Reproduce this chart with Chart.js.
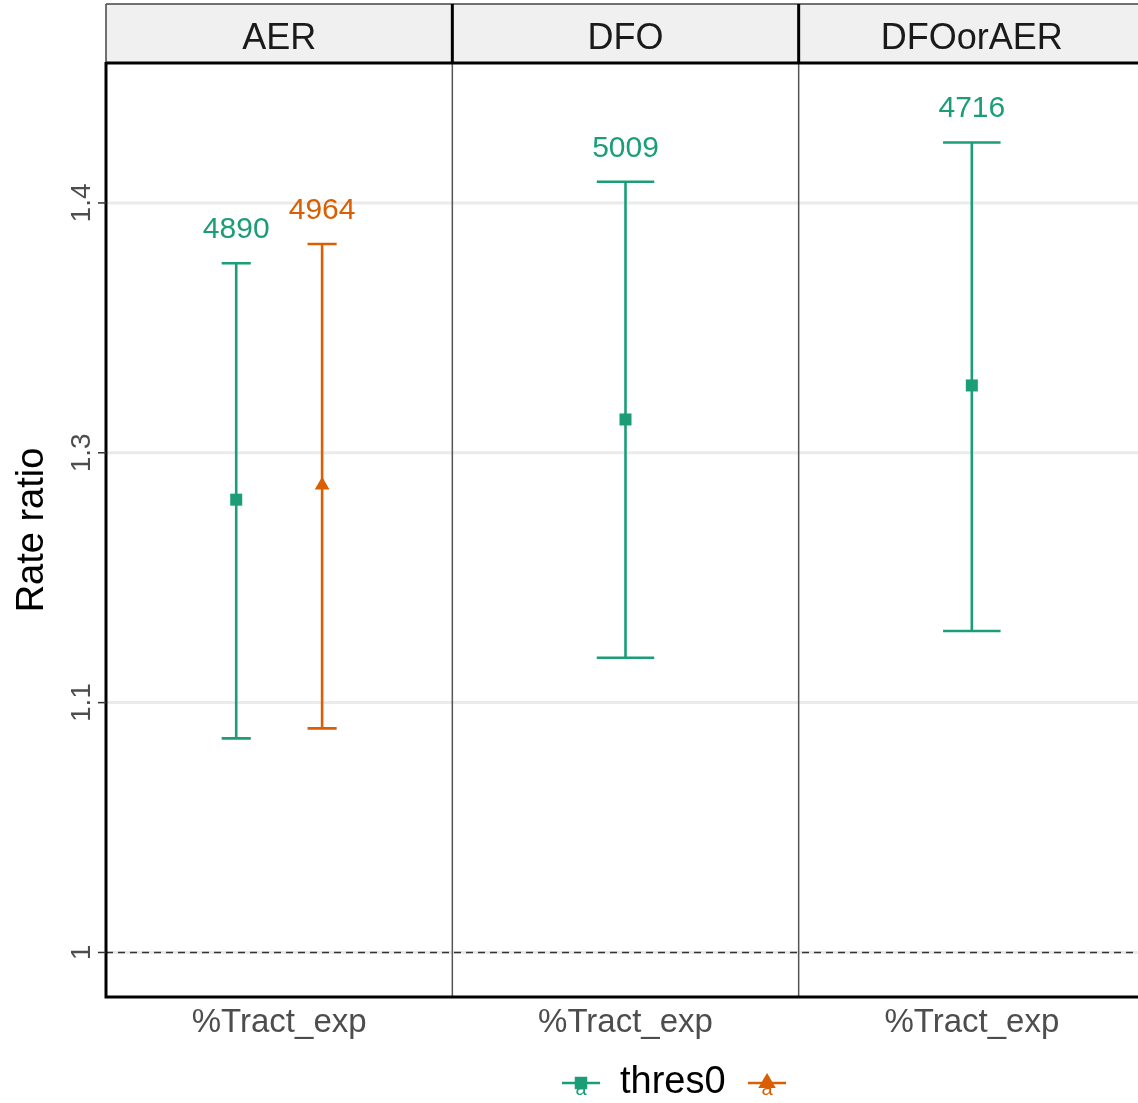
<!DOCTYPE html>
<html>
<head>
<meta charset="utf-8">
<title>Rate ratio by exposure definition</title>
<script src="https://cdn.jsdelivr.net/npm/chart.js@4.4.1/dist/chart.umd.min.js"></script>
<style>
  html, body { margin: 0; padding: 0; background: #fff; }
  /* the last facet runs a few pixels past the right edge, as in the original crop */
  #wrap { position: relative; width: 1138px; height: 1103px; overflow: hidden; }
  #rr-chart { display: block; width: 1146px; height: 1103px; }
</style>
</head>
<body>
<div id="wrap"><canvas id="rr-chart" width="1146" height="1103"></canvas></div>
<script>
// facets and axis text
const panels = ['AER', 'DFO', 'DFOorAER'];
const xLabel = '%Tract_exp';
const yTitle = 'Rate ratio';
const tickValues = [1, 1.12, 1.2544, 1.404928];
const tickLabels = ['1', '1.1', '1.3', '1.4'];

// thres0 series (green), one per panel
const greenEst = [1.228, 1.2735, 1.2933];
const greenLow = [1.102, 1.143, 1.157];
const greenHigh = [1.367, 1.4185, 1.444];
const greenN = ['4890', '5009', '4716'];

// second series (orange), only in AER
const orangePanel = [0];
const orangeEst = [1.236];
const orangeLow = [1.107];
const orangeHigh = [1.379];
const orangeN = ['4964'];

const legendLabels = ['thres0', ''];

const GREEN = '#1b9e77';
const ORANGE = '#d95f02';
const DODGE = 0.124;
const FONT = '"Liberation Sans", Arial, sans-serif';

(function() {
  'use strict';

  function greenX(i) {
    const shared = orangePanel.indexOf(i) >= 0;
    return i + 0.5 - (shared ? DODGE : 0);
  }
  function orangeX(k) {
    return orangePanel[k] + 0.5 + DODGE;
  }

  const greenPts = greenEst.map((v, i) => ({ x: greenX(i), y: v, lo: greenLow[i], hi: greenHigh[i], n: greenN[i], cap: orangePanel.indexOf(i) >= 0 ? 0.042 : 0.083 }));
  const orangePts = orangeEst.map((v, k) => ({ x: orangeX(k), y: v, lo: orangeLow[k], hi: orangeHigh[k], n: orangeN[k], cap: 0.042 }));

  // gridlines, dashed reference, error bars and count labels
  const errorBarPlugin = {
    id: 'errorBars',
    beforeDatasetsDraw(chart) {
      const { ctx, chartArea: a, scales: { x, y } } = chart;
      ctx.save();
      ctx.strokeStyle = '#ebebeb';
      ctx.lineWidth = 3;
      tickValues.forEach(v => {
        const py = y.getPixelForValue(v);
        ctx.beginPath(); ctx.moveTo(a.left, py); ctx.lineTo(a.right, py); ctx.stroke();
      });
      // reference line at 1
      const p1 = y.getPixelForValue(1);
      ctx.strokeStyle = '#333';
      ctx.lineWidth = 1.6;
      ctx.setLineDash([7, 5]);
      ctx.beginPath(); ctx.moveTo(a.left, p1); ctx.lineTo(a.right, p1); ctx.stroke();
      ctx.setLineDash([]);

      chart.data.datasets.forEach(ds => {
        ctx.strokeStyle = ds.borderColor;
        ctx.fillStyle = ds.borderColor;
        ctx.lineWidth = 2.6;
        ds.data.forEach(p => {
          const px = x.getPixelForValue(p.x);
          const pl = x.getPixelForValue(p.x - p.cap);
          const pr = x.getPixelForValue(p.x + p.cap);
          const top = y.getPixelForValue(p.hi);
          const bot = y.getPixelForValue(p.lo);
          ctx.beginPath();
          ctx.moveTo(px, top); ctx.lineTo(px, bot);
          ctx.moveTo(pl, top); ctx.lineTo(pr, top);
          ctx.moveTo(pl, bot); ctx.lineTo(pr, bot);
          ctx.stroke();
          ctx.font = '30px ' + FONT;
          ctx.textAlign = 'center';
          ctx.textBaseline = 'alphabetic';
          ctx.fillText(p.n, px, top - 25);
        });
      });
      ctx.restore();
    },
    afterDraw(chart) {
      const { ctx, chartArea: a, scales: { x, y } } = chart;
      ctx.save();
      // panel separators
      ctx.strokeStyle = '#555';
      ctx.lineWidth = 1.5;
      for (let i = 1; i < panels.length; i++) {
        const px = x.getPixelForValue(i);
        ctx.beginPath(); ctx.moveTo(px, a.top); ctx.lineTo(px, a.bottom); ctx.stroke();
      }
      // strips
      const stripTop = 4;
      panels.forEach((name, i) => {
        const l = x.getPixelForValue(i);
        const r = x.getPixelForValue(i + 1);
        ctx.fillStyle = '#f0f0f0';
        ctx.fillRect(l, stripTop, r - l, a.top - stripTop);
        ctx.fillStyle = '#1a1a1a';
        ctx.font = '36px ' + FONT;
        ctx.textAlign = 'center';
        ctx.textBaseline = 'middle';
        ctx.fillText(name, (l + r) / 2, (stripTop + a.top) / 2 + 6);
        // x axis label under each panel
        ctx.fillStyle = '#4d4d4d';
        ctx.font = '33px ' + FONT;
        ctx.fillText(xLabel, (l + r) / 2, a.bottom + 26);
      });
      ctx.strokeStyle = '#444';
      ctx.lineWidth = 1.5;
      ctx.beginPath();
      ctx.moveTo(a.left, stripTop); ctx.lineTo(a.right, stripTop);
      ctx.moveTo(a.left, stripTop); ctx.lineTo(a.left, a.top);
      ctx.stroke();
      ctx.strokeStyle = '#000';
      ctx.lineWidth = 3;
      for (let i = 1; i < panels.length; i++) {
        const px = x.getPixelForValue(i);
        ctx.beginPath(); ctx.moveTo(px, stripTop); ctx.lineTo(px, a.top); ctx.stroke();
      }
      // panel top, left axis, bottom axis
      ctx.beginPath();
      ctx.moveTo(a.left, a.top); ctx.lineTo(a.right, a.top);
      ctx.moveTo(a.left, a.top - 1); ctx.lineTo(a.left, a.bottom);
      ctx.lineTo(a.right, a.bottom);
      ctx.stroke();

      // y ticks and rotated labels
      ctx.strokeStyle = '#333';
      ctx.lineWidth = 1.5;
      ctx.fillStyle = '#4d4d4d';
      ctx.font = '28px ' + FONT;
      tickValues.forEach((v, i) => {
        const py = y.getPixelForValue(v);
        ctx.beginPath(); ctx.moveTo(a.left - 8, py); ctx.lineTo(a.left, py); ctx.stroke();
        ctx.save();
        ctx.translate(a.left - 24, py);
        ctx.rotate(-Math.PI / 2);
        ctx.textAlign = 'center';
        ctx.textBaseline = 'middle';
        ctx.fillText(tickLabels[i], 0, 0);
        ctx.restore();
      });
      // y title
      ctx.save();
      ctx.fillStyle = '#000';
      ctx.font = '38px ' + FONT;
      ctx.translate(33, (a.top + a.bottom) / 2);
      ctx.rotate(-Math.PI / 2);
      ctx.textAlign = 'center';
      ctx.textBaseline = 'middle';
      ctx.fillText(yTitle, 0, 0);
      ctx.restore();

      // legend
      const ly = 1083;
      const keys = [
        { color: GREEN, style: 'rect', x0: 562, label: legendLabels[0] },
        { color: ORANGE, style: 'triangle', x0: 748, label: legendLabels[1] }
      ];
      keys.forEach(k => {
        ctx.strokeStyle = k.color;
        ctx.fillStyle = k.color;
        ctx.lineWidth = 2.6;
        ctx.beginPath(); ctx.moveTo(k.x0, ly); ctx.lineTo(k.x0 + 38, ly); ctx.stroke();
        Chart.helpers.drawPoint(ctx, { pointStyle: k.style, radius: k.style === 'rect' ? 7 : 7.5, borderWidth: 1 }, k.x0 + 19, ly);
        ctx.font = '20px ' + FONT;
        ctx.textAlign = 'center';
        ctx.textBaseline = 'middle';
        ctx.fillText('a', k.x0 + 19, ly + 6);
        if (k.label) {
          ctx.fillStyle = '#000';
          ctx.font = '38px ' + FONT;
          ctx.textAlign = 'left';
          ctx.fillText(k.label, k.x0 + 58, ly);
        }
      });
      ctx.restore();
    }
  };

  const ctx = document.getElementById('rr-chart');
  new Chart(ctx, {
    type: 'scatter',
    data: {
      datasets: [
        {
          label: legendLabels[0],
          data: greenPts,
          borderColor: GREEN,
          backgroundColor: GREEN,
          pointStyle: 'rect',
          pointRadius: 8.5,
          pointHoverRadius: 8.5,
          borderWidth: 0
        },
        {
          label: 'second',
          data: orangePts,
          borderColor: ORANGE,
          backgroundColor: ORANGE,
          pointStyle: 'triangle',
          pointRadius: 8.5,
          pointHoverRadius: 8.5,
          borderWidth: 0
        }
      ]
    },
    options: {
      responsive: false,
      animation: false,
      events: [],
      layout: { autoPadding: false, padding: { left: 106, right: 1, top: 63, bottom: 106 } },
      plugins: { legend: { display: false }, tooltip: { enabled: false } },
      scales: {
        x: { type: 'linear', min: 0, max: panels.length, display: false },
        y: { type: 'logarithmic', min: 0.9807, max: 1.497, display: false }
      }
    },
    plugins: [errorBarPlugin]
  });
})();
</script>
</body>
</html>
